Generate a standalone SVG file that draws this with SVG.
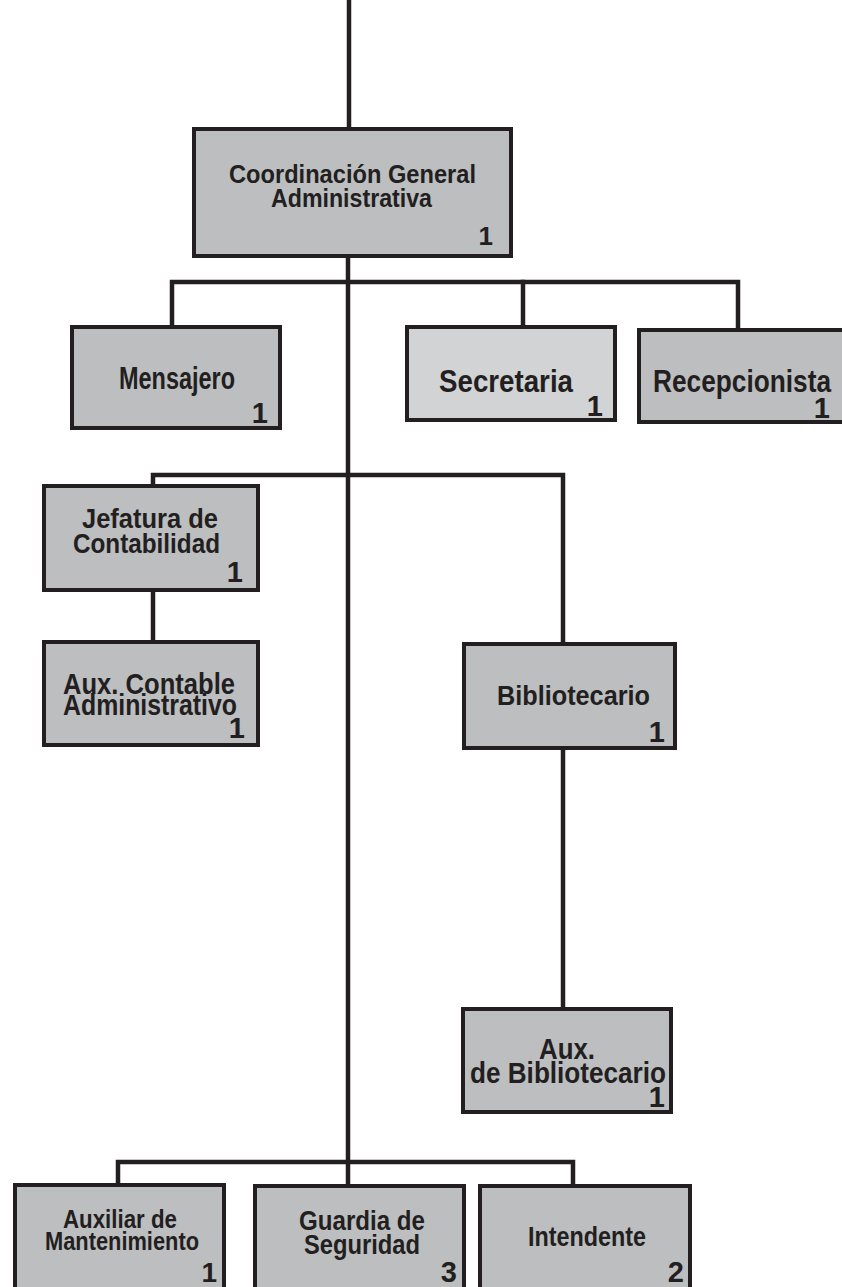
<svg xmlns="http://www.w3.org/2000/svg" width="842" height="1287" viewBox="0 0 842 1287">
<style>
.box{fill:#bcbec0;stroke:#231f20;stroke-width:4}
.light{fill:#d1d3d4}
.ln{fill:none;stroke:#231f20;stroke-width:4.5;stroke-linecap:square}
text{font-family:"Liberation Sans",Arial,Helvetica,sans-serif;font-weight:bold;fill:#231f20}
.c{text-anchor:middle}
.n{text-anchor:end}
</style>
<rect width="842" height="1287" fill="#ffffff"/>
<g id="connectors">
<path class="ln" d="M349,0 V127"/>
<path class="ln" d="M348,258 V1184"/>
<path class="ln" d="M172,325 V282 H738 V328"/>
<path class="ln" d="M523,282 V325"/>
<path class="ln" d="M153,484 V475 H563 V642"/>
<path class="ln" d="M153,592 V640"/>
<path class="ln" d="M563,750 V1007"/>
<path class="ln" d="M118,1183 V1162 H573 V1184"/>
</g>
<g id="coordinacion">
<rect class="box" x="194" y="129" width="317" height="127"/>
<text class="c" x="352.5" y="183" font-size="26" textLength="247" lengthAdjust="spacingAndGlyphs">Coordinación General</text>
<text class="c" x="351.5" y="207" font-size="26" textLength="161" lengthAdjust="spacingAndGlyphs">Administrativa</text>
<text class="n" x="493" y="245" font-size="26">1</text>
</g>
<g id="mensajero">
<rect class="box" x="72" y="327" width="208" height="101"/>
<text class="c" x="177" y="389" font-size="31" textLength="116" lengthAdjust="spacingAndGlyphs">Mensajero</text>
<text class="n" x="268" y="423" font-size="29">1</text>
</g>
<g id="secretaria">
<rect class="box light" x="407" y="327" width="208" height="93"/>
<text class="c" x="506" y="392" font-size="31" textLength="134" lengthAdjust="spacingAndGlyphs">Secretaria</text>
<text class="n" x="603" y="416" font-size="29">1</text>
</g>
<g id="recepcionista">
<rect class="box" x="639" y="330" width="210" height="92"/>
<text class="c" x="742" y="392" font-size="31" textLength="178" lengthAdjust="spacingAndGlyphs">Recepcionista</text>
<text class="n" x="830" y="418" font-size="29">1</text>
</g>
<g id="jefatura">
<rect class="box" x="44" y="486" width="214" height="104"/>
<text class="c" x="150" y="528" font-size="27" textLength="136" lengthAdjust="spacingAndGlyphs">Jefatura de</text>
<text class="c" x="146.5" y="553" font-size="27" textLength="147" lengthAdjust="spacingAndGlyphs">Contabilidad</text>
<text class="n" x="243" y="582" font-size="29">1</text>
</g>
<g id="aux-contable">
<rect class="box" x="44" y="642" width="214" height="103"/>
<text class="c" x="149" y="694" font-size="30" textLength="172" lengthAdjust="spacingAndGlyphs">Aux. Contable</text>
<text class="c" x="150" y="715" font-size="29" textLength="174" lengthAdjust="spacingAndGlyphs">Administrativo</text>
<text class="n" x="245" y="738" font-size="29">1</text>
</g>
<g id="bibliotecario">
<rect class="box" x="464" y="644" width="211" height="104"/>
<text class="c" x="573.5" y="705" font-size="28" textLength="153" lengthAdjust="spacingAndGlyphs">Bibliotecario</text>
<text class="n" x="665" y="742" font-size="29">1</text>
</g>
<g id="aux-bibliotecario">
<rect class="box" x="463" y="1009" width="208" height="103"/>
<text class="c" x="567" y="1059" font-size="30" textLength="56" lengthAdjust="spacingAndGlyphs">Aux.</text>
<text class="c" x="568" y="1083" font-size="30" textLength="196" lengthAdjust="spacingAndGlyphs">de Bibliotecario</text>
<text class="n" x="665" y="1107" font-size="29">1</text>
</g>
<g id="auxiliar-mantenimiento">
<rect class="box" x="15" y="1185" width="209" height="120"/>
<text class="c" x="120" y="1228" font-size="25" textLength="114" lengthAdjust="spacingAndGlyphs">Auxiliar de</text>
<text class="c" x="122" y="1250" font-size="25" textLength="154" lengthAdjust="spacingAndGlyphs">Mantenimiento</text>
<text class="n" x="217" y="1282" font-size="28">1</text>
</g>
<g id="guardia">
<rect class="box" x="255" y="1186" width="209" height="120"/>
<text class="c" x="362" y="1230" font-size="28" textLength="126" lengthAdjust="spacingAndGlyphs">Guardia de</text>
<text class="c" x="362" y="1254" font-size="28" textLength="116" lengthAdjust="spacingAndGlyphs">Seguridad</text>
<text class="n" x="457" y="1282" font-size="29">3</text>
</g>
<g id="intendente">
<rect class="box" x="480" y="1186" width="210" height="120"/>
<text class="c" x="587" y="1246" font-size="28" textLength="118" lengthAdjust="spacingAndGlyphs">Intendente</text>
<text class="n" x="684" y="1282" font-size="29">2</text>
</g>
</svg>
